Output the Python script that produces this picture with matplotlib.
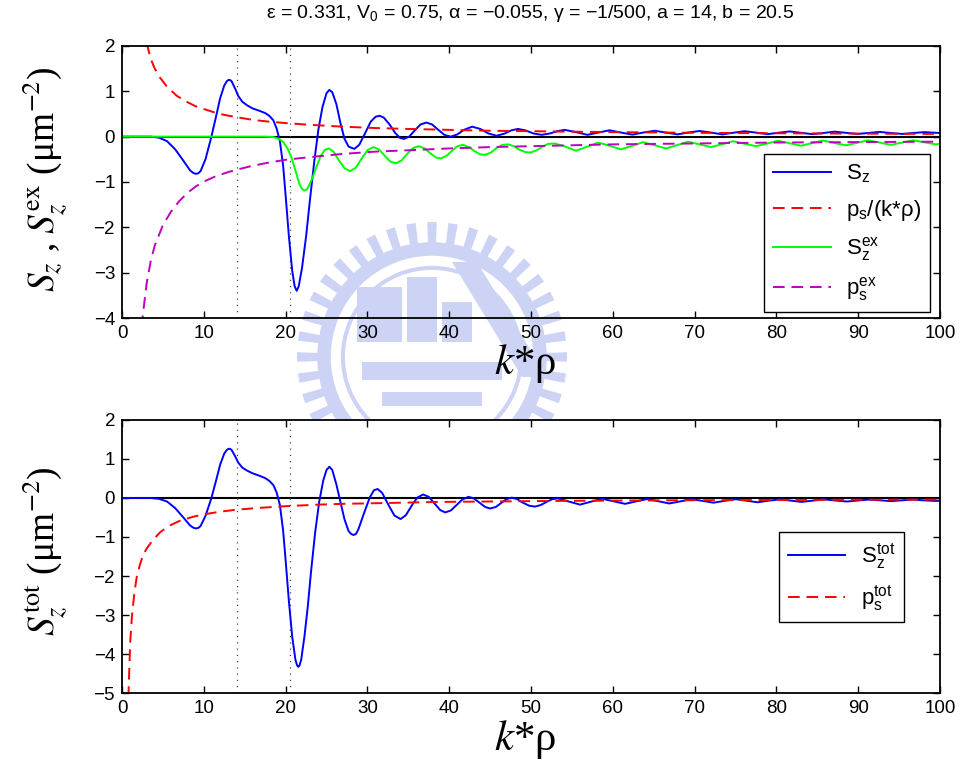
import matplotlib
matplotlib.use("Agg")
import matplotlib.pyplot as plt
import numpy as np
from matplotlib.patches import Polygon, Ellipse, Rectangle

plt.rcParams['mathtext.fontset'] = 'stix'
plt.rcParams['font.family'] = ['Liberation Sans', 'DejaVu Sans']

W, H = 967, 765

# parameters of the run
a_pos = 14.0
b_pos = 20.5
title_txt = ('ε = 0.331, V$\\mathregular{_0}$ = 0.75, α = −0.055, '
             'γ = −1/500, a = 14, b = 20.5')

# ---- upper panel: S_z and its exchange part ----
sz_x = [0, 3.5, 4.5, 5.5, 6.5, 7.5, 8.3, 8.7, 9.0, 9.3, 9.6, 10.2, 10.9, 11.5,
        12.0, 12.5, 12.8, 13.0, 13.2, 13.4, 13.8, 14.2, 14.7, 15.3, 16.0, 16.8,
        17.5, 18.0, 18.5, 18.9, 19.3, 19.7, 20.0, 20.4, 20.8, 21.1, 21.35, 21.6,
        22.0, 22.5, 23.0, 23.5, 24.0, 24.5, 25.0, 25.35, 25.7, 26.2, 26.7, 27.2,
        27.7, 28.4, 29.0, 29.7, 30.4, 31.0, 31.5, 32.0, 32.7, 33.4, 34.0, 34.5,
        35.1, 35.8, 36.5, 37.2, 37.9, 38.6, 39.4, 40.2, 41.0, 41.8, 42.8, 43.8,
        44.8, 45.8, 46.8, 47.6, 48.4, 49.3, 50.3, 51.3, 52.3, 53.2, 54.1, 55.5,
        56.9, 58.2, 59.6, 61.0, 62.4, 63.7, 65.1, 66.5, 67.9, 69.2, 70.6, 72.0,
        73.4, 74.7, 76.1, 77.5, 78.9, 80.2, 81.6, 83.0, 84.4, 85.7, 87.1, 88.5,
        89.9, 91.2, 92.6, 94.0, 95.4, 96.7, 98.1, 100.0]
sz_y = [0, 0, -0.02, -0.10, -0.28, -0.53, -0.74, -0.80, -0.82, -0.81, -0.76,
        -0.50, -0.02, 0.45, 0.85, 1.13, 1.22, 1.25, 1.25, 1.22, 1.07, 0.90, 0.77,
        0.69, 0.62, 0.57, 0.52, 0.46, 0.36, 0.18, -0.10, -0.65, -1.30, -2.20,
        -2.95, -3.30, -3.40, -3.30, -2.90, -2.20, -1.35, -0.55, 0.15, 0.65, 0.96,
        1.03, 0.98, 0.72, 0.30, -0.05, -0.22, -0.27, -0.18, 0.07, 0.33, 0.44,
        0.46, 0.42, 0.27, 0.08, -0.03, -0.05, 0.00, 0.14, 0.27, 0.31, 0.27, 0.16,
        0.04, 0.00, 0.05, 0.15, 0.22, 0.17, 0.07, 0.02, 0.07, 0.14, 0.17, 0.14,
        0.07, 0.04, 0.07, 0.12, 0.15, 0.10, 0.04, 0.09, 0.14, 0.09, 0.045, 0.09,
        0.13, 0.09, 0.05, 0.09, 0.125, 0.09, 0.05, 0.085, 0.12, 0.09, 0.055,
        0.085, 0.115, 0.085, 0.055, 0.08, 0.11, 0.085, 0.06, 0.08, 0.105, 0.08,
        0.06, 0.08, 0.10, 0.08]

ps_x = [3.0, 3.5, 4.0, 4.65, 5.5, 6.7, 8.0, 9.0, 10.0, 11.2, 12.5, 14.0, 16.0,
        18.0, 20.0, 23.0, 27.0, 31.0, 35.0, 40.0, 45.0, 50.0, 60.0, 70.0, 80.0,
        90.0, 100.0]
ps_y = [2.07, 1.72, 1.50, 1.30, 1.10, 0.90, 0.76, 0.67, 0.61, 0.54, 0.48, 0.43,
        0.37, 0.33, 0.30, 0.26, 0.22, 0.19, 0.17, 0.15, 0.13, 0.12, 0.10, 0.085,
        0.075, 0.067, 0.06]

szex_x = [0, 17.5, 18.5, 19.2, 19.7, 20.2, 20.7, 21.2, 21.7, 22.0, 22.3, 22.6,
          22.8, 23.3, 23.8, 24.3, 24.8, 25.3, 25.9, 26.5, 27.2, 27.9, 28.6, 29.3,
          30.0, 30.7, 31.4, 32.1, 32.8, 33.5, 34.2, 34.9, 35.6, 36.3, 37.0, 37.7,
          38.4, 39.0, 39.7, 40.4, 41.0, 41.7, 42.4, 43.1, 43.8, 44.4, 45.1, 45.8,
          46.5, 47.2, 47.9, 48.6, 49.3, 49.95, 50.7, 51.4, 52.1, 52.9, 54.2, 55.5,
          56.9, 58.2, 59.6, 61.0, 62.4, 63.7, 65.1, 66.5, 67.9, 69.2, 70.6, 72.0,
          73.4, 74.7, 76.1, 77.5, 78.9, 80.2, 81.6, 83.0, 84.4, 85.7, 87.1, 88.5,
          89.9, 91.2, 92.6, 94.0, 95.4, 96.7, 98.1, 99.5, 100.0]
szex_y = [0, 0, -0.01, -0.05, -0.12, -0.25, -0.45, -0.75, -1.05, -1.15, -1.19,
          -1.16, -1.10, -0.90, -0.65, -0.42, -0.29, -0.26, -0.34, -0.52, -0.70,
          -0.76, -0.68, -0.48, -0.30, -0.23, -0.28, -0.42, -0.55, -0.59, -0.52,
          -0.37, -0.25, -0.21, -0.26, -0.37, -0.46, -0.48, -0.42, -0.30, -0.21,
          -0.18, -0.23, -0.32, -0.39, -0.40, -0.35, -0.25, -0.18, -0.17, -0.21,
          -0.29, -0.34, -0.35, -0.30, -0.22, -0.16, -0.15, -0.22, -0.31, -0.22,
          -0.13, -0.20, -0.28, -0.20, -0.12, -0.19, -0.26, -0.185, -0.11, -0.17,
          -0.23, -0.165, -0.10, -0.155, -0.21, -0.15, -0.09, -0.145, -0.20, -0.14,
          -0.085, -0.14, -0.19, -0.135, -0.08, -0.13, -0.18, -0.13, -0.08, -0.125,
          -0.17, -0.16]

psex_x = [2.4, 2.5, 3.0, 3.5, 4.0, 5.0, 6.0, 7.0, 8.0, 9.0, 10.0, 11.5, 13.0,
          14.0, 16.0, 18.0, 20.0, 23.0, 27.0, 31.0, 35.0, 40.0, 45.0, 50.0, 60.0,
          70.0, 80.0, 90.0, 100.0]
psex_y = [-4.2, -4.0, -3.25, -2.75, -2.40, -1.95, -1.65, -1.42, -1.24, -1.10,
          -0.99, -0.87, -0.78, -0.73, -0.64, -0.57, -0.51, -0.45, -0.38, -0.33,
          -0.30, -0.26, -0.23, -0.21, -0.17, -0.15, -0.13, -0.12, -0.11]

# ---- lower panel: total S_z ----
tot_x = [0, 3.5, 4.5, 5.5, 6.5, 7.5, 8.3, 8.7, 9.0, 9.3, 9.6, 10.2, 10.9, 11.5,
         12.0, 12.5, 12.8, 13.0, 13.2, 13.4, 13.8, 14.2, 14.7, 15.3, 16.0, 16.8,
         17.5, 18.0, 18.5, 18.9, 19.3, 19.7, 20.0, 20.4, 20.8, 21.2, 21.4, 21.55,
         21.7, 21.9, 22.3, 22.7, 23.1, 23.6, 24.1, 24.6, 25.0, 25.35, 25.7, 26.2,
         26.7, 27.2, 27.7, 28.0, 28.3, 28.6, 28.9, 29.6, 30.3, 30.8, 31.25, 31.8,
         32.5, 33.3, 34.05, 34.7, 35.4, 36.1, 36.8, 37.5, 38.2, 38.9, 39.5, 40.2,
         40.9, 41.6, 42.35, 43.0, 43.7, 44.4, 45.0, 45.7, 46.4, 47.0, 47.65, 48.3,
         49.0, 49.8, 50.5, 51.2, 51.9, 52.6, 53.3, 54.6, 56.0, 57.4, 58.7, 60.1,
         61.5, 62.8, 64.2, 65.5, 66.9, 68.3, 69.6, 71.0, 72.3, 73.6, 75.0, 76.4,
         77.7, 79.0, 80.4, 81.8, 83.1, 84.4, 85.8, 87.2, 88.6, 89.9, 91.3, 92.6,
         94.0, 95.4, 96.7, 98.0, 99.4, 100.0]
tot_y = [0, 0, -0.02, -0.09, -0.26, -0.50, -0.70, -0.76, -0.78, -0.77, -0.72,
         -0.46, -0.02, 0.45, 0.86, 1.14, 1.23, 1.26, 1.26, 1.23, 1.08, 0.91, 0.78,
         0.70, 0.63, 0.57, 0.51, 0.44, 0.33, 0.14, -0.18, -0.85, -1.60, -2.65,
         -3.55, -4.15, -4.29, -4.33, -4.29, -4.15, -3.55, -2.80, -1.90, -0.90,
         -0.10, 0.45, 0.72, 0.80, 0.72, 0.35, -0.10, -0.55, -0.85, -0.92, -0.95,
         -0.92, -0.80, -0.38, 0.02, 0.20, 0.23, 0.13, -0.15, -0.45, -0.54, -0.44,
         -0.20, 0.01, 0.09, 0.03, -0.14, -0.31, -0.37, -0.32, -0.18, -0.04, 0.03,
         -0.01, -0.12, -0.23, -0.27, -0.23, -0.12, -0.03, 0.01, -0.03, -0.12,
         -0.20, -0.22, -0.18, -0.10, -0.03, -0.01, -0.09, -0.17, -0.09, -0.02,
         -0.085, -0.15, -0.09, -0.025, -0.08, -0.14, -0.085, -0.03, -0.075,
         -0.12, -0.075, -0.03, -0.07, -0.11, -0.07, -0.035, -0.07, -0.10, -0.07,
         -0.035, -0.065, -0.09, -0.065, -0.04, -0.06, -0.08, -0.06, -0.04, -0.06,
         -0.075, -0.07]

pstot_x = [0.7, 0.8, 1.0, 1.2, 1.5, 1.8, 2.2, 2.6, 3.0, 3.8, 4.7, 5.9, 7.0, 8.7,
           10.0, 12.0, 14.0, 17.0, 20.0, 24.0, 27.0, 32.0, 39.0, 45.0, 53.0,
           60.0, 70.0, 80.0, 90.0, 100.0]
pstot_y = [-5.6, -4.95, -3.70, -3.05, -2.45, -2.02, -1.70, -1.45, -1.30, -1.07,
           -0.87, -0.70, -0.59, -0.48, -0.42, -0.35, -0.30, -0.25, -0.21, -0.17,
           -0.15, -0.13, -0.10, -0.09, -0.075, -0.067, -0.057, -0.05, -0.045,
           -0.04]

DASH = (6, 3.5)
LW = 1.4
serif = ['Liberation Serif', 'DejaVu Serif']
MARK = '#cdd3f4'   # pale blue of the page stamp


def px(x, y):
    """pixel position (from top left) -> figure fraction"""
    return x / W, 1 - y / H


def style_axes(ax, ylim, yticks):
    ax.set_xlim(0, 100)
    ax.set_ylim(*ylim)
    ax.set_xticks(range(0, 101, 10))
    ax.set_yticks(yticks)
    ax.set_yticklabels([str(t).replace('-', '−') for t in yticks])
    ax.tick_params(direction='in', length=5, width=1.0, labelsize=13.5,
                   top=True, right=True, pad=5)
    for sp in ax.spines.values():
        sp.set_linewidth(1.3)
    ax.axhline(0, color='k', lw=1.5, zorder=1)
    for xv in (a_pos, b_pos):
        ax.axvline(xv, color='#444444', lw=0.9, ls=(0, (1, 4)), zorder=1)


def draw_stamp(ax, cx, cy, r):
    # gear ring with round band, drawn in figure pixels under the curves
    tr = ax.figure.transFigure
    kw = dict(transform=tr, clip_on=False, zorder=0.3, lw=0)
    for k in range(40):
        t = 2 * np.pi * k / 40
        half = np.pi / 40 * 0.45
        pts = [px(cx + rr * np.cos(t + s * half), cy - rr * np.sin(t + s * half))
               for rr, s in ((r * 0.84, -1), (r, -1), (r, 1), (r * 0.84, 1))]
        ax.add_patch(Polygon(pts, closed=True, fc=MARK, **kw))
    for rr, w in ((r * 0.80, r * 0.10), (r * 0.66, r * 0.03)):
        ax.add_patch(Ellipse(px(cx, cy), 2 * rr / W, 2 * rr / H, fill=False,
                             ec=MARK, lw=w * 0.72, transform=tr, clip_on=False,
                             zorder=0.3))
    # building blocks in the middle
    for x0, y0, w, h in ((cx - 75, cy - 70, 45, 55), (cx - 25, cy - 80, 30, 65),
                         (cx + 10, cy - 55, 30, 40), (cx - 70, cy + 5, 140, 18),
                         (cx - 50, cy + 35, 100, 14)):
        ax.add_patch(Rectangle(px(x0, y0 + h), w / W, h / H, fc=MARK, **kw))
    band = [px(cx + 20, cy - 95), px(cx + 45, cy - 95), px(cx + 115, cy + 20),
            px(cx + 90, cy + 20)]
    ax.add_patch(Polygon(band, closed=True, fc=MARK, **kw))


fig = plt.figure(figsize=(W / 100, H / 100), dpi=100)
ax1 = fig.add_axes([0.1262, 0.5843, 0.8459, 0.3556])
ax2 = fig.add_axes([0.1262, 0.0941, 0.8459, 0.3569])

style_axes(ax1, (-4, 2), [-4, -3, -2, -1, 0, 1, 2])
draw_stamp(ax1, 432, 357, 135)
ax1.plot(sz_x, sz_y, color='b', lw=LW, label='S$\\mathregular{_z}$')
ax1.plot(ps_x, ps_y, color='r', lw=LW, dashes=DASH,
         label='p$\\mathregular{_s}$/(k*ρ)')
ax1.plot(szex_x, szex_y, color='#00ff00', lw=LW,
         label='S$\\mathregular{_z^{ex}}$')
ax1.plot(psex_x, psex_y, color='m', lw=LW, dashes=DASH,
         label='p$\\mathregular{_s^{ex}}$')
fig.text(*px(530, 13), title_txt, fontsize=14, ha='center', va='center')
ax1.set_xlabel('$k$*ρ', family=serif, fontsize=31)
ax1.xaxis.set_label_coords(0.493, -0.09)
ax1.set_ylabel('$S_z$ , $S_z^{\\mathrm{ex}}$ (μm$^{-2}$)', family=serif,
               fontsize=27)
ax1.yaxis.set_label_coords(-0.062, 0.51)
leg1 = ax1.legend(loc='lower right', bbox_to_anchor=(0.988, 0.022),
                  fontsize=16, handlelength=2.6, labelspacing=0.55,
                  handletextpad=0.7, fancybox=False, framealpha=1,
                  edgecolor='k', borderaxespad=0)
leg1.get_frame().set_linewidth(1.0)

style_axes(ax2, (-5, 2), [-5, -4, -3, -2, -1, 0, 1, 2])
ax2.plot(tot_x, tot_y, color='b', lw=LW, label='S$\\mathregular{_z^{tot}}$')
ax2.plot(pstot_x, pstot_y, color='r', lw=LW, dashes=DASH,
         label='p$\\mathregular{_s^{tot}}$')
ax2.set_xlabel('$k$*ρ', family=serif, fontsize=31)
ax2.xaxis.set_label_coords(0.493, -0.09)
ax2.set_ylabel('$S_z^{\\mathrm{tot}}$ (μm$^{-2}$)', family=serif, fontsize=27)
ax2.yaxis.set_label_coords(-0.062, 0.52)
leg2 = ax2.legend(loc='lower right', bbox_to_anchor=(0.956, 0.26),
                  fontsize=16, handlelength=2.6, labelspacing=0.55,
                  handletextpad=0.7, fancybox=False, framealpha=1,
                  edgecolor='k', borderaxespad=0)
leg2.get_frame().set_linewidth(1.0)

fig.savefig('out.png', dpi=100)
